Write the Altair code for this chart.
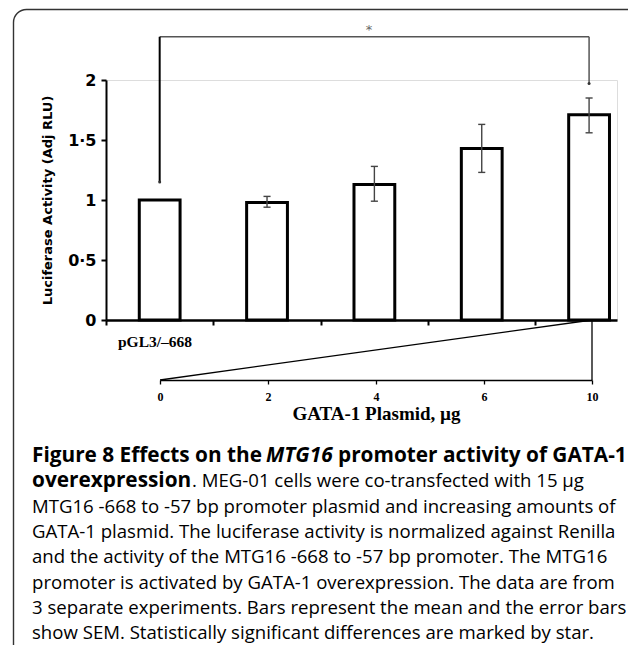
import altair as alt
import pandas as pd

# ---------------- data ----------------
plasmid = ["0", "2", "4", "6", "10"]          # GATA-1 plasmid, ug
means = [1.00, 0.98, 1.13, 1.43, 1.71]        # luciferase activity (Adj RLU)
err_lo = [None, 0.94, 0.99, 1.23, 1.56]
err_hi = [None, 1.03, 1.28, 1.63, 1.85]
y_ticks = [0, 0.5, 1, 1.5, 2]
band_ticks = [0, 1, 2, 3, 4]

sig_pair = [0, 4]          # compared bars
sig_top = 2.36             # bracket height
sig_ends = [1.15, 1.97]    # bracket drop ends
sig_label = "*"

y_title = "Luciferase Activity (Adj RLU)"
x_label = "pGL3/\u2013668"
x2_title = "GATA-1 Plasmid, \u00b5g"

caption_regular = [
    "MTG16 -668 to -57 bp promoter plasmid and increasing amounts of",
    "GATA-1 plasmid. The luciferase activity is normalized against Renilla",
    "and the activity of the MTG16 -668 to -57 bp promoter. The MTG16",
    "promoter is activated by GATA-1 overexpression. The data are from",
    "3 separate experiments. Bars represent the mean and the error bars",
    "show SEM. Statistically significant differences are marked by star.",
]

# ---------------- tables ----------------
W, H = 511, 240
HALF = 0.19
bars = pd.DataFrame({"p": plasmid, "mean": means, "lo": err_lo, "hi": err_hi})
bars["i"] = range(len(bars))
bars["xc"] = bars["i"] + 0.5
bars["x0"] = bars["xc"] - HALF
bars["x1"] = bars["xc"] + HALF
bars["c0"] = bars["xc"] - 0.033
bars["c1"] = bars["xc"] + 0.033
errs = bars.dropna(subset=["lo"])

xa, xb = sig_pair[0] + 0.5, sig_pair[1] + 0.5
bracket_h = pd.DataFrame({"x": [xa], "x2": [xb], "y": [sig_top]})
bracket_l = pd.DataFrame({"x": [xa], "y": [sig_top], "y2": [sig_ends[0]]})
bracket_r = pd.DataFrame({"x": [xb], "y": [sig_top], "y2": [sig_ends[1]]})
bracket_dots = pd.DataFrame({"x": [xa, xb], "y": sig_ends})
star = pd.DataFrame({"x": [(xa + xb) / 2 - 0.05], "y": [sig_top], "t": [sig_label]})

LOW = -0.5  # level of GATA-1 plasmid axis (60 px below 0)
wedge = pd.DataFrame({"p": [plasmid[0], plasmid[-1]], "y": [LOW, 0]})
drop = pd.DataFrame({"p": [plasmid[-1]], "y": [LOW], "y2": [0]})

# ---------------- scales / axes ----------------
xscale = alt.Scale(domain=[0, 4.76], nice=False, zero=False)
yscale = alt.Scale(domain=[0, 2], nice=False)
yaxis = alt.Axis(
    values=y_ticks, title=y_title, grid=False,
    labelExpr="replace(format(datum.value, '~g'), '.', '\u00b7')",
    labelFont="DejaVu Sans", labelFontWeight="bold", labelFontSize=16, labelColor="black",
    labelPadding=5, tickSize=5, tickWidth=2, tickColor="black",
    domainColor="black", domainWidth=2,
    titleFont="DejaVu Sans", titleFontWeight="bold", titleFontSize=13, titleColor="black",
    titlePadding=13,
)
xaxis = alt.Axis(
    values=band_ticks, labels=False, title=None, grid=False,
    tickSize=5, tickWidth=2, tickColor="black", domainColor="black", domainWidth=2.5,
)


def X(f, **kw):
    return alt.X(f, type="quantitative", scale=xscale, axis=xaxis, **kw)


def Y(f):
    return alt.Y(f, type="quantitative", scale=yscale, axis=yaxis)


pscale = alt.Scale(type="point", domain=plasmid, range=[54, 486], padding=0)
paxis = alt.Axis(
    orient="bottom", offset=60, title=x2_title, grid=False,
    labelFont="Liberation Serif", labelFontWeight="bold", labelFontSize=12, labelColor="black",
    labelPadding=7, labelAngle=0,
    tickSize=4, tickWidth=1.3, tickColor="black", domainColor="black", domainWidth=1.3,
    titleFont="Liberation Serif", titleFontWeight="bold", titleFontSize=19, titleColor="black",
    titlePadding=2,
)

# ---------------- layers ----------------
bar_layer = alt.Chart(bars).mark_bar(fill="white", stroke="black", strokeWidth=3).encode(
    x=X("x0"), x2="x1", y=Y("mean"), y2=alt.datum(0)
)
err_v = alt.Chart(errs).mark_rule(color="#444", strokeWidth=1.4).encode(x=X("xc"), y=Y("lo"), y2="hi")
err_t = alt.Chart(errs).mark_rule(color="#444", strokeWidth=1.4).encode(x=X("c0"), x2="c1", y=Y("hi"))
err_b = alt.Chart(errs).mark_rule(color="#444", strokeWidth=1.4).encode(x=X("c0"), x2="c1", y=Y("lo"))

br_h = alt.Chart(bracket_h).mark_rule(color="#555", strokeWidth=1.5).encode(x=X("x"), x2="x2", y=Y("y"))
br_l = alt.Chart(bracket_l).mark_rule(color="black", strokeWidth=2).encode(x=X("x"), y=Y("y"), y2="y2")
br_r = alt.Chart(bracket_r).mark_rule(color="#555", strokeWidth=1.5).encode(x=X("x"), y=Y("y"), y2="y2")
br_d = alt.Chart(bracket_dots).mark_circle(color="#333", size=9, opacity=1).encode(x=X("x"), y=Y("y"))
star_t = alt.Chart(star).mark_text(font="DejaVu Sans", fontSize=13, color="#666", baseline="middle", dy=-7).encode(
    x=X("x"), y=Y("y"), text="t:N"
)

main = alt.layer(bar_layer, err_v, err_t, err_b, br_h, br_l, br_r, br_d, star_t)

wedge_l = alt.Chart(wedge).mark_line(color="black", strokeWidth=1.3).encode(
    x=alt.X("p:O", scale=pscale, axis=paxis, sort=plasmid), y=Y("y")
)
drop_l = alt.Chart(drop).mark_rule(color="black", strokeWidth=1.3).encode(
    x=alt.X("p:O", scale=pscale, axis=paxis, sort=plasmid), y=Y("y"), y2="y2"
)
gata = alt.layer(wedge_l, drop_l)


def text_layer(txt, x, y, size, weight="normal", style="normal", font="Open Sans",
               align="left", color="black"):
    return alt.Chart(pd.DataFrame({"t": [txt]})).mark_text(
        align=align, baseline="middle", font=font, fontSize=size,
        fontWeight=weight, fontStyle=style, color=color,
    ).encode(x=alt.value(x), y=alt.value(y), text="t:N")


OX, OY = 106, 80   # page position of plot origin
CX = 32 - OX
CY0, DY = 456 - OY, 25.3
FS = 18.6
FB = 20.8

texts = [text_layer(x_label, 118 - OX, 342 - OY, 15.5, weight="bold", font="Liberation Serif")]
texts += [
    text_layer("Figure 8 Effects on the", CX, CY0, FB, weight="bold"),
    text_layer("MTG16", 266 - OX, CY0, FB, weight="bold", style="italic"),
    text_layer("promoter activity of GATA-1", 338 - OX, CY0, FB, weight="bold"),
    text_layer("overexpression", CX, CY0 + DY, FB, weight="bold"),
    text_layer(". MEG-01 cells were co-transfected with 15 \u00b5g", 192 - OX, CY0 + DY, FS),
]
for k, line in enumerate(caption_regular):
    texts.append(text_layer(line, CX, CY0 + DY * (k + 2), FS))

box = alt.Chart(pd.DataFrame({"a": [0]})).mark_rect(
    fill=None, fillOpacity=0, stroke="#333", strokeWidth=1.4, cornerRadius=13
).encode(x=alt.value(13.5 - OX), y=alt.value(9.5 - OY), x2=alt.value(560), y2=alt.value(620))

TOTAL_H = 637
chart = alt.layer(box, main, gata, *texts).resolve_scale(x="independent").resolve_axis(x="independent").properties(
    width=W, height=H,
    autosize=alt.AutoSizeParams(type="none"),
    padding={"left": OX - 8, "top": OY - 8, "right": 620 - (OX - 8) - W, "bottom": TOTAL_H - (OY - 8) - H},
).configure_view(stroke=None).configure(background="white")

chart.save("out.html", embed_options={"renderer": "svg", "actions": False})
